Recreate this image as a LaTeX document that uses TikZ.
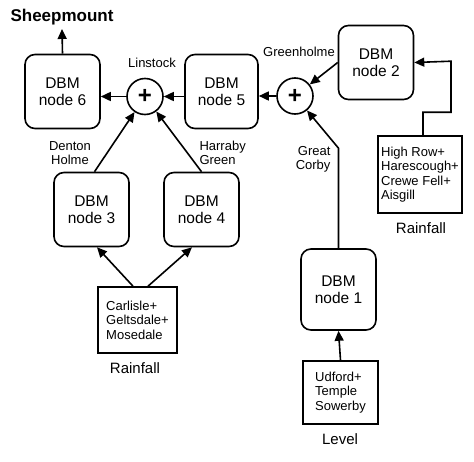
\documentclass[tikz,border=0pt]{standalone}
\usepackage{fontspec}
\setmainfont{Liberation Sans}
\usetikzlibrary{arrows.meta,positioning}

\tikzset{
  dbm/.style={draw, rounded corners=10pt, line width=1.6pt, minimum width=75pt,
    minimum height=74pt, align=center, inner sep=0pt, font=\fontsize{15.5}{17}\selectfont},
  sumnode/.style={draw, circle, line width=1.6pt, minimum size=36pt, inner sep=0pt,
    font=\fontsize{24}{24}\selectfont\bfseries},
  databox/.style={draw, line width=1.6pt, align=left, inner sep=0pt,
    font=\fontsize{13}{14.5}\selectfont},
  site/.style={font=\fontsize{13}{14}\selectfont},
  inlabel/.style={font=\fontsize{15}{16}\selectfont},
  flow/.style={line width=1.6pt, -{Triangle[length=10pt,width=9pt]}},
}

\begin{document}
\begin{tikzpicture}[x=1pt,y=-1pt]
    \useasboundingbox (0,0) rectangle (474,461);
    % model nodes
    \node[dbm] (n6) at (62.5,91.5) {DBM\\node 6};
    \node[dbm, minimum width=73pt] (n5) at (221.5,91.5) {DBM\\node 5};
    \node[dbm] (n2) at (376,62.5) {DBM\\node 2};
    \node[dbm] (n3) at (91.5,209.5) {DBM\\node 3};
    \node[dbm] (n4) at (201.5,209.5) {DBM\\node 4};
    \node[dbm, minimum height=81pt] (n1) at (338.5,289.5) {DBM\\node 1};
    %% junctions
    \node[sumnode] (ls) at (145,96.5) {+};
    \node[sumnode] (gh) at (295,96) {+};
    %% inputs
    \node[databox, minimum width=79pt, minimum height=66pt] (rcar) at (137.5,320) {Carlisle+\\Geltsdale+\\Mosedale};
    \node[databox, minimum width=84pt, minimum height=77pt] (rhr) at (420,174.5) {High Row+\\Harescough+\\Crewe Fell+\\Aisgill};
    \node[databox, minimum width=75pt, minimum height=63pt] (lud) at (340.5,392.5) {Udford+\\Temple\\Sowerby};
    %
    \node[inlabel] (rcarlbl) at (135,368) {Rainfall};
    \node[inlabel] (rhrlbl) at (421,228) {Rainfall};
    \node[inlabel] (ludlbl) at (340,439) {Level};
    %% gauging stations
    \node[font=\fontsize{17}{17}\selectfont\bfseries] (out) at (62,17.5) {Sheepmount};
    \node[site] (lslbl) at (152,63) {Linstock};
    \node[site] (ghlbl) at (299,52) {Greenholme};
    \node[site, align=center] (dhlbl) at (70,153) {Denton\\Holme};
    \node[site, align=left, anchor=west] (hglbl) at (196,153) {Harraby\\Green};
    \node[site, align=right, anchor=east] (gclbl) at (334,159) {Great\\Corby};
    %% connectors
    \draw[flow] (n6.north) -- (out.south);
    \draw[flow] (ls.west) -- (ls.west -| n6.east);
    \draw[flow] (n5.west |- ls) -- (ls.east);
    \draw[flow] (gh.west) -- (gh.west -| n5.east);
    \draw[flow] (n2.west) -- (gh);
    \draw[flow] (n1.north) -- ++(0,-100) -- (gh);
    \draw[flow] ([xshift=3pt]n3.north) -- (ls);
    \draw[flow] (n4.north) -- (ls);
    \draw[flow] ([xshift=-4.5pt]rcar.north) -- ([xshift=5.5pt]n3.south);
    \draw[flow] ([xshift=10.5pt]rcar.north) -- ([xshift=-9.5pt]n4.south);
    \draw[flow] (lud.north) -- (n1.south);
    \draw[flow] ([xshift=3pt]rhr.north) -- ++(0,-23) -| ++(28,-51) -- (n2.east);
\end{tikzpicture}
\end{document}
